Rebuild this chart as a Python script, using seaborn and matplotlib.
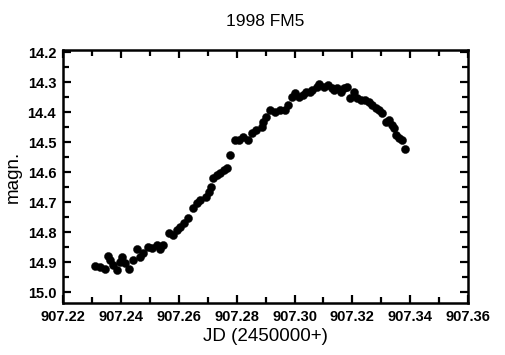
"""Light curve of asteroid 1998 FM5 (JD 2450907.22 - 907.36)."""

import matplotlib
matplotlib.use("Agg")
import matplotlib.pyplot as plt
import seaborn as sns
import pandas as pd
from matplotlib.ticker import MultipleLocator, FormatStrFormatter

# --- data --------------------------------------------------------------------
jd = [
    907.2310, 907.2328, 907.2345, 907.2355, 907.2362, 907.2372, 907.2386,
    907.2397, 907.2403, 907.2414, 907.2428, 907.2441, 907.2455, 907.2466,
    907.2476, 907.2493, 907.2507, 907.2524, 907.2534, 907.2545, 907.2566,
    907.2579, 907.2593, 907.2603, 907.2617, 907.2631, 907.2648, 907.2662,
    907.2672, 907.2693, 907.2703, 907.2710, 907.2717, 907.2731, 907.2741,
    907.2755, 907.2766, 907.2776, 907.2793, 907.2807, 907.2821, 907.2838,
    907.2852, 907.2866, 907.2886, 907.2890, 907.2903, 907.2914, 907.2931,
    907.2948, 907.2966, 907.2976, 907.2990, 907.3000, 907.3017, 907.3028,
    907.3041, 907.3052, 907.3062, 907.3076, 907.3086, 907.3103, 907.3114,
    907.3128, 907.3138, 907.3148, 907.3162, 907.3172, 907.3183, 907.3190,
    907.3207, 907.3217, 907.3231, 907.3245, 907.3259, 907.3269, 907.3283,
    907.3293, 907.3303, 907.3317, 907.3328, 907.3338, 907.3345, 907.3352,
    907.3362, 907.3372, 907.3383,
]
magn = [
    14.913, 14.917, 14.923, 14.880, 14.893, 14.910, 14.927,
    14.900, 14.883, 14.903, 14.923, 14.893, 14.857, 14.883,
    14.870, 14.850, 14.853, 14.843, 14.857, 14.843, 14.803,
    14.810, 14.793, 14.783, 14.770, 14.753, 14.720, 14.703,
    14.693, 14.683, 14.667, 14.650, 14.620, 14.610, 14.603,
    14.593, 14.587, 14.543, 14.493, 14.493, 14.483, 14.493,
    14.470, 14.460, 14.450, 14.433, 14.417, 14.393, 14.400,
    14.393, 14.393, 14.377, 14.350, 14.337, 14.350, 14.343,
    14.333, 14.333, 14.327, 14.317, 14.307, 14.317, 14.310,
    14.320, 14.327, 14.320, 14.333, 14.320, 14.317, 14.353,
    14.333, 14.353, 14.360, 14.360, 14.367, 14.377, 14.387,
    14.393, 14.403, 14.433, 14.427, 14.443, 14.453, 14.477,
    14.487, 14.493, 14.523,
]

title = "1998 FM5"
x_label = "JD (2450000+)"
y_label = "magn."


def main() -> int:
    sns.set_theme(style="ticks")
    plt.rcParams["font.family"] = ["Liberation Sans", "DejaVu Sans"]
    plt.rcParams["text.color"] = "black"
    plt.rcParams["axes.labelcolor"] = "black"

    df = pd.DataFrame({"jd": jd, "magn": magn})

    fig = plt.figure(figsize=(5.05, 3.55), dpi=100)
    ax = fig.add_axes([0.125, 0.146, 0.802, 0.713])

    sns.scatterplot(data=df, x="jd", y="magn", ax=ax, color="black",
                    s=34, edgecolor="black", linewidth=0.3)

    ax.set_xlim(907.22, 907.36)
    ax.set_ylim(15.037, 14.193)
    ax.xaxis.set_major_locator(MultipleLocator(0.02))
    ax.xaxis.set_minor_locator(MultipleLocator(0.01))
    ax.yaxis.set_major_locator(MultipleLocator(0.1))
    ax.yaxis.set_minor_locator(MultipleLocator(0.05))
    ax.xaxis.set_major_formatter(FormatStrFormatter("%.2f"))
    ax.yaxis.set_major_formatter(FormatStrFormatter("%.1f"))

    ax.tick_params(which="both", direction="in", top=True, right=True,
                   width=1.6, colors="black", labelsize=10.5, pad=5)
    ax.tick_params(which="major", length=6)
    ax.tick_params(which="minor", length=4)
    for lab in ax.get_xticklabels() + ax.get_yticklabels():
        lab.set_fontweight("bold")
    for spine in ax.spines.values():
        spine.set_linewidth(1.8)
        spine.set_color("black")

    ax.set_title(title, fontsize=12.5, pad=17, color="black")
    ax.set_xlabel(x_label, fontsize=13.5, labelpad=3)
    ax.set_ylabel(y_label, fontsize=13.5, labelpad=4)

    fig.savefig("out.png", dpi=100, facecolor="white")
    plt.close(fig)
    return 0


if __name__ == "__main__":
    raise SystemExit(main())
